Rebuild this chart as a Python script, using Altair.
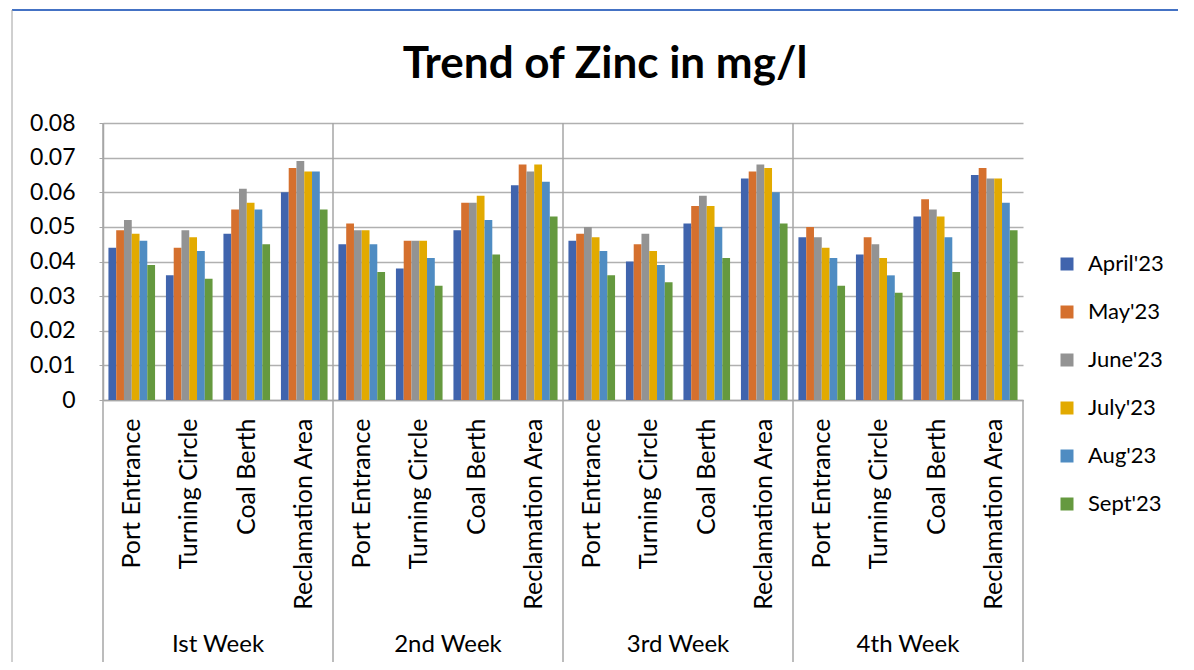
import altair as alt
import pandas as pd

weeks = ["Ist Week", "2nd Week", "3rd Week", "4th Week"]
sites = ["Port Entrance", "Turning Circle", "Coal Berth", "Reclamation Area"]
months = ["April'23", "May'23", "June'23", "July'23", "Aug'23", "Sept'23"]
colors = ["#4064ad", "#d5702e", "#939393", "#e2aa00", "#4f8cc2", "#65993f"]

# values ordered week-major: (week1: PE, TC, CB, RA), (week2: ...), ...
april = [0.044, 0.036, 0.048, 0.060, 0.045, 0.038, 0.049, 0.062,
         0.046, 0.040, 0.051, 0.064, 0.047, 0.042, 0.053, 0.065]
may = [0.049, 0.044, 0.055, 0.067, 0.051, 0.046, 0.057, 0.068,
       0.048, 0.045, 0.056, 0.066, 0.050, 0.047, 0.058, 0.067]
june = [0.052, 0.049, 0.061, 0.069, 0.049, 0.046, 0.057, 0.066,
        0.050, 0.048, 0.059, 0.068, 0.047, 0.045, 0.055, 0.064]
july = [0.048, 0.047, 0.057, 0.066, 0.049, 0.046, 0.059, 0.068,
        0.047, 0.043, 0.056, 0.067, 0.044, 0.041, 0.053, 0.064]
aug = [0.046, 0.043, 0.055, 0.066, 0.045, 0.041, 0.052, 0.063,
       0.043, 0.039, 0.050, 0.060, 0.041, 0.036, 0.047, 0.057]
sept = [0.039, 0.035, 0.045, 0.055, 0.037, 0.033, 0.042, 0.053,
        0.036, 0.034, 0.041, 0.051, 0.033, 0.031, 0.037, 0.049]

series = [april, may, june, july, aug, sept]
keys = [f"{w}|{s}" for w in weeks for s in sites]

rows = []
for m, vals in zip(months, series):
    for k, v in zip(keys, vals):
        rows.append({"key": k, "month": m, "value": v})
df = pd.DataFrame(rows)

FONT = "Lato"
W, H = 920, 277

xscale = alt.Scale(domain=keys, paddingInner=0, paddingOuter=0)
xaxis = alt.Axis(labelExpr="split(datum.label, '|')[1]", labelAngle=-90,
                 ticks=False, labelPadding=18, labelFontSize=25,
                 labelFont=FONT, labelColor="#000000", domainColor="#a6a6a6",
                 domainWidth=1.5, labelLimit=400, grid=False)

bars = alt.Chart(df).mark_bar().encode(
    x=alt.X("key:N", scale=xscale, sort=keys, title=None, axis=xaxis),
    xOffset=alt.XOffset("month:N", sort=months,
                        scale=alt.Scale(domain=months, paddingInner=0, paddingOuter=0.7)),
    y=alt.Y("value:Q", scale=alt.Scale(domain=[0, 0.08], nice=False), title=None,
            axis=alt.Axis(values=[0, 0.01, 0.02, 0.03, 0.04, 0.05, 0.06, 0.07, 0.08],
                          labelExpr="datum.value == 0 ? '0' : format(datum.value, '.2f')",
                          labelFontSize=23, labelFont=FONT, labelColor="#000000",
                          gridColor="#b0b0b0", gridWidth=1.5, domainColor="#a6a6a6",
                          domainWidth=1.5, tickSize=4, tickColor="#a6a6a6",
                          labelPadding=24)),
    color=alt.Color("month:N", sort=months,
                    scale=alt.Scale(domain=months, range=colors),
                    legend=alt.Legend(title=None, orient="none", legendX=953, legendY=130,
                                      symbolType="square", symbolSize=169, padding=0,
                                      symbolStrokeWidth=0, labelFontSize=22,
                                      labelFont=FONT, labelColor="#000000",
                                      rowPadding=26, labelOffset=10)),
)

first_df = pd.DataFrame({"key": [f"{w}|{sites[0]}" for w in weeks]})
last_df = pd.DataFrame({"key": [f"{weeks[-1]}|{sites[-1]}"]})
center_df = pd.DataFrame({"key": [f"{w}|{sites[1]}" for w in weeks], "week": weeks})

sep_left = alt.Chart(first_df).mark_rule(color="#a6a6a6", strokeWidth=1.5).encode(
    x=alt.X("key:N", scale=xscale, sort=keys, bandPosition=0, title=None, axis=xaxis),
    y=alt.value(0), y2=alt.value(539),
)
sep_right = alt.Chart(last_df).mark_rule(color="#a6a6a6", strokeWidth=1.5).encode(
    x=alt.X("key:N", scale=xscale, sort=keys, bandPosition=1, title=None, axis=xaxis),
    y=alt.value(H), y2=alt.value(539),
)
week_text = alt.Chart(center_df).mark_text(
    fontSize=24, font=FONT, color="#000000", baseline="middle"
).encode(
    x=alt.X("key:N", scale=xscale, sort=keys, bandPosition=1, title=None, axis=xaxis),
    y=alt.value(522),
    text="week:N",
)

one = pd.DataFrame({"t": ["Trend of Zinc in mg/l"]})
title = alt.Chart(one).mark_text(
    fontSize=44, font=FONT, fontWeight="bold", color="#000000", baseline="alphabetic"
).encode(x=alt.value(502), y=alt.value(-45), text="t:N")

top_border = alt.Chart(one).mark_rule(color="#4472c4", strokeWidth=2).encode(
    x=alt.value(-91), x2=alt.value(1075), y=alt.value(-113)
)
left_border = alt.Chart(one).mark_rule(color="#a0a0a0", strokeWidth=1).encode(
    x=alt.value(-91), y=alt.value(-113), y2=alt.value(547)
)

chart = alt.layer(
    bars, sep_left, sep_right, week_text, title, top_border, left_border
).properties(
    width=W, height=H,
    autosize=alt.AutoSizeParams(type="none"),
    padding={"left": 95, "top": 115, "right": 163, "bottom": 262},
    background="#ffffff",
).configure_view(stroke=None)

chart.save("out.html", embed_options={"renderer": "svg", "actions": False})
